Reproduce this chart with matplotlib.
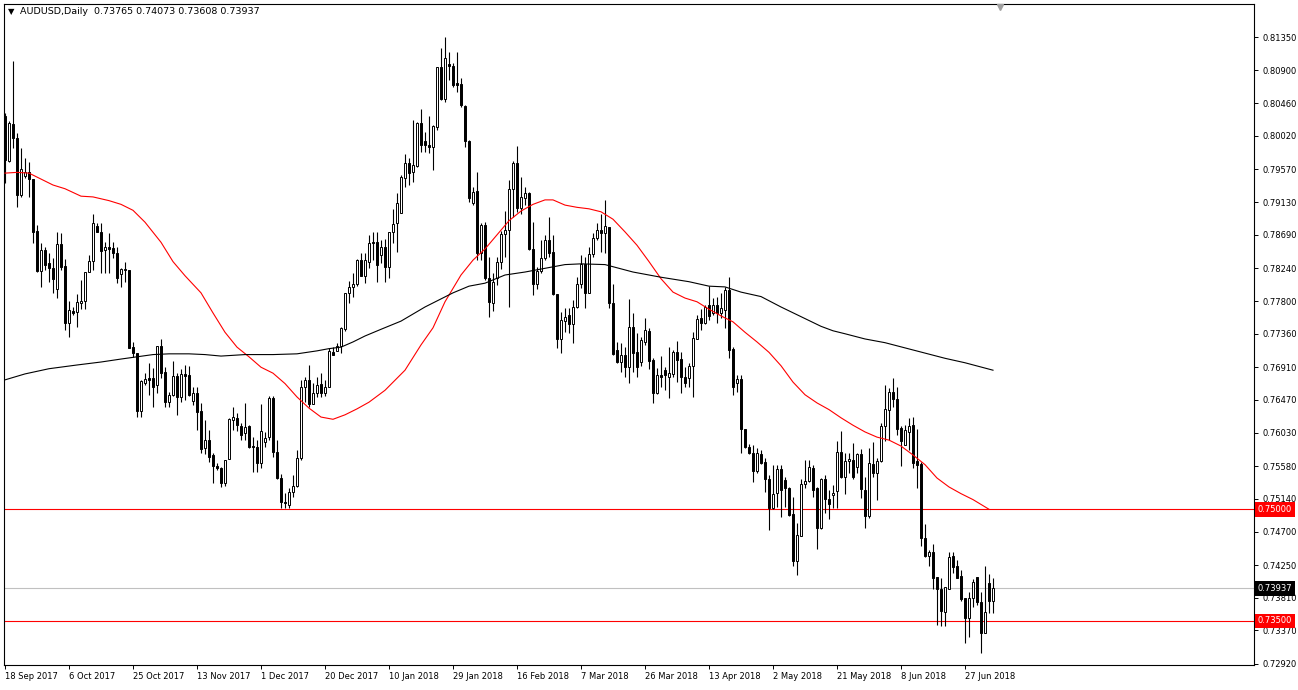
import matplotlib
matplotlib.use("Agg")
import matplotlib.pyplot as plt
import matplotlib.transforms as mtransforms

# Daily AUDUSD candles, one entry per bar (left to right)
opens = [0.8029, 0.7968, 0.8018, 0.7999, 0.7923, 0.7948, 0.7953, 0.7944, 0.7874, 0.7820,
         0.7849, 0.7831, 0.7824, 0.7796, 0.7857, 0.7827, 0.7750, 0.7767, 0.7765, 0.7777,
         0.7780, 0.7819, 0.7834, 0.7881, 0.7873, 0.7849, 0.7853, 0.7851, 0.7845, 0.7816,
         0.7822, 0.7822, 0.7718, 0.7710, 0.7632, 0.7670, 0.7676, 0.7676, 0.7667, 0.7720,
         0.7685, 0.7644, 0.7654, 0.7679, 0.7651, 0.7682, 0.7681, 0.7646, 0.7656, 0.7632,
         0.7583, 0.7593, 0.7573, 0.7558, 0.7556, 0.7535, 0.7568, 0.7620, 0.7623, 0.7612,
         0.7603, 0.7612, 0.7585, 0.7584, 0.7562, 0.7591, 0.7597, 0.7650, 0.7577, 0.7542,
         0.7510, 0.7506, 0.7523, 0.7531, 0.7569, 0.7664, 0.7674, 0.7641, 0.7656, 0.7668,
         0.7656, 0.7664, 0.7711, 0.7713, 0.7720, 0.7742, 0.7791, 0.7799, 0.7803, 0.7835,
         0.7814, 0.7832, 0.7860, 0.7860, 0.7842, 0.7853, 0.7826, 0.7873, 0.7885, 0.7898,
         0.7945, 0.7966, 0.7953, 0.7961, 0.8019, 0.7995, 0.7990, 0.7987, 0.8014, 0.8095,
         0.8052, 0.8099, 0.8096, 0.8073, 0.8072, 0.8042, 0.7995, 0.7912, 0.7928, 0.7845,
         0.7882, 0.7811, 0.7777, 0.7811, 0.7832, 0.7870, 0.7875, 0.7931, 0.7966, 0.7905,
         0.7919, 0.7925, 0.7850, 0.7803, 0.7820, 0.7838, 0.7862, 0.7846, 0.7790, 0.7729,
         0.7753, 0.7761, 0.7749, 0.7772, 0.7803, 0.7830, 0.7791, 0.7843, 0.7865, 0.7875,
         0.7871, 0.7880, 0.7777, 0.7714, 0.7698, 0.7707, 0.7691, 0.7745, 0.7711, 0.7698,
         0.7725, 0.7740, 0.7701, 0.7656, 0.7681, 0.7687, 0.7678, 0.7682, 0.7711, 0.7702,
         0.7678, 0.7676, 0.7693, 0.7729, 0.7757, 0.7750, 0.7775, 0.7764, 0.7775, 0.7764,
         0.7768, 0.7795, 0.7716, 0.7670, 0.7675, 0.7608, 0.7584, 0.7576, 0.7552, 0.7574,
         0.7563, 0.7541, 0.7502, 0.7522, 0.7554, 0.7539, 0.7529, 0.7494, 0.7431, 0.7464,
         0.7534, 0.7538, 0.7556, 0.7529, 0.7475, 0.7541, 0.7514, 0.7519, 0.7524, 0.7577,
         0.7543, 0.7565, 0.7566, 0.7557, 0.7574, 0.7526, 0.7491, 0.7561, 0.7549, 0.7565,
         0.7612, 0.7634, 0.7658, 0.7648, 0.7609, 0.7587, 0.7604, 0.7613, 0.7565, 0.7561,
         0.7461, 0.7437, 0.7443, 0.7409, 0.7393, 0.7362, 0.7393, 0.7437, 0.7424, 0.7410,
         0.7381, 0.7354, 0.7381, 0.7409, 0.7375, 0.7334, 0.7401, 0.73765]
highs = [0.8033, 0.8022, 0.8103, 0.8006, 0.7986, 0.7972, 0.7967, 0.7944, 0.7882, 0.7858,
         0.7853, 0.7845, 0.7838, 0.7873, 0.7872, 0.7836, 0.7780, 0.7772, 0.7790, 0.7808,
         0.7819, 0.7842, 0.7897, 0.7885, 0.7885, 0.7860, 0.7871, 0.7859, 0.7853, 0.7824,
         0.7832, 0.7822, 0.7725, 0.7710, 0.7674, 0.7683, 0.7697, 0.7690, 0.7720, 0.7729,
         0.7691, 0.7658, 0.7699, 0.7683, 0.7688, 0.7694, 0.7693, 0.7664, 0.7664, 0.7643,
         0.7620, 0.7607, 0.7576, 0.7562, 0.7557, 0.7566, 0.7623, 0.7638, 0.7630, 0.7616,
         0.7643, 0.7613, 0.7597, 0.7593, 0.7641, 0.7604, 0.7652, 0.7652, 0.7593, 0.7548,
         0.7522, 0.7529, 0.7546, 0.7580, 0.7674, 0.7678, 0.7694, 0.7670, 0.7678, 0.7683,
         0.7674, 0.7717, 0.7718, 0.7724, 0.7745, 0.7791, 0.7807, 0.7818, 0.7837, 0.7845,
         0.7845, 0.7869, 0.7873, 0.7873, 0.7862, 0.7863, 0.7873, 0.7904, 0.7925, 0.7949,
         0.7978, 0.7972, 0.8023, 0.8021, 0.8038, 0.8007, 0.8029, 0.8017, 0.8095, 0.8120,
         0.8135, 0.8115, 0.8100, 0.8115, 0.8080, 0.8044, 0.7997, 0.7933, 0.7953, 0.7885,
         0.7886, 0.7839, 0.7818, 0.7839, 0.7874, 0.7901, 0.7943, 0.7968, 0.7988, 0.7947,
         0.7933, 0.7927, 0.7886, 0.7826, 0.7862, 0.7869, 0.7893, 0.7869, 0.7790, 0.7765,
         0.7771, 0.7771, 0.7781, 0.7812, 0.7842, 0.7839, 0.7853, 0.7871, 0.7885, 0.7897,
         0.7916, 0.7880, 0.7803, 0.7725, 0.7724, 0.7718, 0.7783, 0.7764, 0.7737, 0.7732,
         0.7757, 0.7744, 0.7703, 0.7690, 0.7706, 0.7691, 0.7718, 0.7714, 0.7726, 0.7711,
         0.7691, 0.7697, 0.7738, 0.7761, 0.7769, 0.7775, 0.7800, 0.7784, 0.7786, 0.7791,
         0.7799, 0.7812, 0.7718, 0.7681, 0.7681, 0.7608, 0.7588, 0.7587, 0.7582, 0.7580,
         0.7569, 0.7546, 0.7560, 0.7560, 0.7560, 0.7543, 0.7530, 0.7517, 0.7482, 0.7541,
         0.7566, 0.7566, 0.7560, 0.7530, 0.7542, 0.7546, 0.7526, 0.7533, 0.7592, 0.7605,
         0.7576, 0.7576, 0.7589, 0.7576, 0.7581, 0.7543, 0.7583, 0.7591, 0.7569, 0.7616,
         0.7667, 0.7663, 0.7676, 0.7664, 0.7612, 0.7613, 0.7623, 0.7624, 0.7608, 0.7564,
         0.7480, 0.7445, 0.7453, 0.7409, 0.7408, 0.7396, 0.7443, 0.7443, 0.7432, 0.7418,
         0.7381, 0.7389, 0.7406, 0.7409, 0.7389, 0.7424, 0.7413, 0.74073]
lows = [0.7939, 0.7967, 0.7986, 0.7907, 0.7920, 0.7945, 0.7920, 0.7858, 0.7819, 0.7799,
        0.7822, 0.7806, 0.7791, 0.7784, 0.7822, 0.7741, 0.7732, 0.7761, 0.7745, 0.7769,
        0.7769, 0.7819, 0.7822, 0.7873, 0.7818, 0.7818, 0.7818, 0.7838, 0.7804, 0.7799,
        0.7806, 0.7717, 0.7705, 0.7624, 0.7624, 0.7667, 0.7654, 0.7638, 0.7656, 0.7676,
        0.7638, 0.7638, 0.7652, 0.7627, 0.7644, 0.7647, 0.7652, 0.7640, 0.7607, 0.7576,
        0.7574, 0.7564, 0.7535, 0.7553, 0.7530, 0.7531, 0.7568, 0.7607, 0.7605, 0.7593,
        0.7593, 0.7583, 0.7550, 0.7550, 0.7555, 0.7584, 0.7593, 0.7570, 0.7541, 0.7502,
        0.7502, 0.7502, 0.7516, 0.7530, 0.7566, 0.7644, 0.7638, 0.7641, 0.7651, 0.7651,
        0.7652, 0.7664, 0.7707, 0.7713, 0.7710, 0.7740, 0.7777, 0.7786, 0.7800, 0.7814,
        0.7804, 0.7824, 0.7835, 0.7806, 0.7831, 0.7806, 0.7811, 0.7858, 0.7846, 0.7898,
        0.7933, 0.7936, 0.7940, 0.7960, 0.7980, 0.7980, 0.7979, 0.7956, 0.8010, 0.8050,
        0.8048, 0.8077, 0.8068, 0.8061, 0.8041, 0.7987, 0.7913, 0.7909, 0.7835, 0.7835,
        0.7808, 0.7759, 0.7767, 0.7802, 0.7823, 0.7839, 0.7772, 0.7893, 0.7900, 0.7897,
        0.7909, 0.7849, 0.7788, 0.7796, 0.7818, 0.7835, 0.7839, 0.7788, 0.7717, 0.7710,
        0.7738, 0.7737, 0.7724, 0.7771, 0.7798, 0.7771, 0.7791, 0.7839, 0.7862, 0.7846,
        0.7845, 0.7771, 0.7707, 0.7697, 0.7685, 0.7678, 0.7670, 0.7685, 0.7678, 0.7693,
        0.7721, 0.7688, 0.7643, 0.7655, 0.7664, 0.7660, 0.7650, 0.7678, 0.7671, 0.7656,
        0.7664, 0.7664, 0.7651, 0.7729, 0.7741, 0.7749, 0.7755, 0.7761, 0.7750, 0.7757,
        0.7744, 0.7703, 0.7654, 0.7658, 0.7576, 0.7583, 0.7574, 0.7537, 0.7549, 0.7561,
        0.7523, 0.7472, 0.7500, 0.7503, 0.7489, 0.7503, 0.7491, 0.7424, 0.7412, 0.7464,
        0.7529, 0.7537, 0.7516, 0.7447, 0.7474, 0.7495, 0.7487, 0.7502, 0.7502, 0.7542,
        0.7521, 0.7549, 0.7541, 0.7549, 0.7515, 0.7475, 0.7488, 0.7543, 0.7513, 0.7564,
        0.7592, 0.7593, 0.7638, 0.7600, 0.7558, 0.7587, 0.7580, 0.7556, 0.7529, 0.7451,
        0.7436, 0.7424, 0.7393, 0.7344, 0.7343, 0.7343, 0.7393, 0.7414, 0.7408, 0.7377,
        0.7320, 0.7328, 0.7369, 0.7371, 0.7307, 0.7334, 0.7361, 0.73608]
closes = [0.7970, 0.8019, 0.7999, 0.7923, 0.7958, 0.7953, 0.7944, 0.7873, 0.7820, 0.7849,
          0.7829, 0.7824, 0.7810, 0.7857, 0.7826, 0.7750, 0.7768, 0.7764, 0.7779, 0.7780,
          0.7819, 0.7834, 0.7885, 0.7873, 0.7847, 0.7853, 0.7850, 0.7845, 0.7811, 0.7823,
          0.7823, 0.7717, 0.7710, 0.7632, 0.7672, 0.7675, 0.7674, 0.7664, 0.7720, 0.7683,
          0.7644, 0.7654, 0.7679, 0.7651, 0.7682, 0.7679, 0.7654, 0.7656, 0.7631, 0.7581,
          0.7593, 0.7570, 0.7558, 0.7556, 0.7535, 0.7566, 0.7622, 0.7624, 0.7613, 0.7600,
          0.7611, 0.7584, 0.7584, 0.7562, 0.7605, 0.7596, 0.7650, 0.7577, 0.7542, 0.7510,
          0.7508, 0.7523, 0.7531, 0.7569, 0.7664, 0.7674, 0.7641, 0.7656, 0.7667, 0.7656,
          0.7664, 0.7713, 0.7707, 0.7720, 0.7744, 0.7791, 0.7799, 0.7803, 0.7835, 0.7814,
          0.7835, 0.7858, 0.7858, 0.7829, 0.7853, 0.7826, 0.7873, 0.7884, 0.7912, 0.7947,
          0.7966, 0.7952, 0.7963, 0.8019, 0.7990, 0.7990, 0.7987, 0.8015, 0.8095, 0.8052,
          0.8107, 0.8096, 0.8070, 0.8070, 0.8043, 0.7995, 0.7919, 0.7927, 0.7845, 0.7882,
          0.7811, 0.7779, 0.7806, 0.7832, 0.7870, 0.7875, 0.7931, 0.7966, 0.7905, 0.7920,
          0.7925, 0.7850, 0.7803, 0.7820, 0.7838, 0.7862, 0.7845, 0.7790, 0.7729, 0.7755,
          0.7759, 0.7749, 0.7772, 0.7803, 0.7830, 0.7791, 0.7843, 0.7865, 0.7875, 0.7871,
          0.7881, 0.7777, 0.7709, 0.7698, 0.7707, 0.7691, 0.7745, 0.7710, 0.7691, 0.7728,
          0.7741, 0.7699, 0.7656, 0.7681, 0.7678, 0.7681, 0.7683, 0.7711, 0.7701, 0.7678,
          0.7670, 0.7693, 0.7730, 0.7756, 0.7750, 0.7772, 0.7760, 0.7775, 0.7764, 0.7771,
          0.7795, 0.7714, 0.7664, 0.7675, 0.7608, 0.7584, 0.7576, 0.7552, 0.7576, 0.7562,
          0.7541, 0.7502, 0.7521, 0.7554, 0.7526, 0.7529, 0.7492, 0.7431, 0.7466, 0.7534,
          0.7538, 0.7557, 0.7526, 0.7475, 0.7541, 0.7514, 0.7507, 0.7522, 0.7577, 0.7543,
          0.7565, 0.7568, 0.7543, 0.7574, 0.7527, 0.7491, 0.7562, 0.7549, 0.7565, 0.7612,
          0.7635, 0.7658, 0.7648, 0.7608, 0.7592, 0.7607, 0.7612, 0.7562, 0.7560, 0.7462,
          0.7437, 0.7443, 0.7408, 0.7393, 0.7363, 0.7396, 0.7436, 0.7422, 0.7408, 0.7379,
          0.7354, 0.7381, 0.7402, 0.7375, 0.7334, 0.7362, 0.7377, 0.73937]

# Moving averages at a few bars
red_ma_bar = [0, 3, 6, 9, 12, 15, 19, 22, 26, 29, 32, 35, 39, 42, 45, 49, 52, 55, 58, 61,
              64, 67, 70, 73, 76, 79, 82, 85, 88, 91, 95, 100, 104, 107, 110, 114, 117, 120,
              123, 126, 129, 132, 135, 137, 140, 143, 146, 149, 152, 155, 158, 161, 164, 167,
              170, 173, 176, 179, 182, 185, 188, 191, 194, 197, 200, 203, 206, 209, 212, 215,
              218, 221, 224, 227, 230, 233, 236, 239, 242, 246]
red_ma = [0.7952, 0.7953, 0.7952, 0.7944, 0.7936, 0.7931, 0.7921, 0.7920, 0.7915, 0.7910,
          0.7902, 0.7886, 0.7859, 0.7833, 0.7814, 0.7791, 0.7764, 0.7738, 0.7718, 0.7705,
          0.7691, 0.7683, 0.7669, 0.7651, 0.7636, 0.7624, 0.7621, 0.7627, 0.7635, 0.7644,
          0.7660, 0.7687, 0.7721, 0.7744, 0.7779, 0.7815, 0.7835, 0.7850, 0.7869, 0.7888,
          0.7901, 0.7910, 0.7916, 0.7916, 0.7909, 0.7906, 0.7904, 0.7900, 0.7890, 0.7873,
          0.7855, 0.7833, 0.7810, 0.7792, 0.7784, 0.7779, 0.7769, 0.7760, 0.7752, 0.7738,
          0.7725, 0.7711, 0.7693, 0.7671, 0.7654, 0.7643, 0.7634, 0.7623, 0.7613, 0.7604,
          0.7597, 0.7593, 0.7585, 0.7573, 0.7560, 0.7542, 0.7530, 0.7521, 0.7513, 0.7500]
black_ma_bar = [0, 5, 11, 18, 24, 29, 33, 37, 41, 46, 50, 54, 60, 67, 73, 78, 81, 84, 87, 90,
                94, 99, 105, 112, 116, 120, 125, 130, 135, 140, 144, 150, 157, 164, 171, 176,
                180, 184, 189, 194, 199, 204, 207, 210, 215, 220, 225, 230, 235, 240, 247]
black_ma = [0.7674, 0.7682, 0.7689, 0.7694, 0.7698, 0.7702, 0.7705, 0.7708, 0.7709, 0.7709,
            0.7708, 0.7706, 0.7708, 0.7708, 0.7709, 0.7713, 0.7716, 0.7718, 0.7725, 0.7733,
            0.7742, 0.7753, 0.7772, 0.7791, 0.7800, 0.7804, 0.7815, 0.7819, 0.7824, 0.7829,
            0.7830, 0.7829, 0.7819, 0.7812, 0.7806, 0.7800, 0.7799, 0.7792, 0.7786, 0.7772,
            0.7759, 0.7746, 0.7740, 0.7736, 0.7729, 0.7724, 0.7717, 0.7710, 0.7703, 0.7697,
            0.7687]

# Horizontal levels
levels = [0.7500, 0.7350]
last_price = 0.73937

price_ticks = [0.81350, 0.80900, 0.80460, 0.80020, 0.79570, 0.79130, 0.78690, 0.78240,
               0.77800, 0.77360, 0.76910, 0.76470, 0.76030, 0.75580, 0.75140, 0.74700,
               0.74250, 0.73810, 0.73370, 0.72920]
date_labels = ["18 Sep 2017", "6 Oct 2017", "25 Oct 2017", "13 Nov 2017", "1 Dec 2017",
               "20 Dec 2017", "10 Jan 2018", "29 Jan 2018", "16 Feb 2018", "7 Mar 2018",
               "26 Mar 2018", "13 Apr 2018", "2 May 2018", "21 May 2018", "8 Jun 2018",
               "27 Jun 2018"]
date_bars = list(range(0, 16 * len(date_labels), 16))  # one label every 16 bars

W, H = 1298, 690
fig = plt.figure(figsize=(W / 100, H / 100), dpi=100)
fig.patch.set_facecolor('white')
ax = fig.add_axes([4 / W, 1 - 665 / H, 1250 / W, 661 / H])

bars = list(range(len(opens)))

# Wicks first, bodies on top
ax.vlines(bars, lows, highs, color='black', linewidth=0.8, zorder=2)
bottoms = [min(o, c) for o, c in zip(opens, closes)]
heights = [abs(c - o) for o, c in zip(opens, closes)]
fills = ['white' if c >= o else 'black' for o, c in zip(opens, closes)]
ax.bar(bars, heights, bottom=bottoms, width=0.5, color=fills, edgecolor='black',
       linewidth=0.7, zorder=3)

# Moving averages
ax.plot(red_ma_bar, red_ma, color='red', linewidth=0.8, zorder=4)
ax.plot(black_ma_bar, black_ma, color='black', linewidth=0.8, zorder=4)

# Levels and current price line
for lv in levels:
    ax.axhline(lv, color='red', linewidth=0.8, zorder=1)
ax.axhline(last_price, color='#C0C0C0', linewidth=0.8, zorder=1)

ax.set_xlim(-0.25, 312.25)
ax.set_ylim(0.72906, 0.81794)

for sp in ax.spines.values():
    sp.set_linewidth(0.8)
    sp.set_color('black')

# Right price scale
ax.yaxis.tick_right()
ax.set_yticks(price_ticks)
ax.set_yticklabels(['%.5f' % p for p in price_ticks])
ax.tick_params(axis='y', direction='out', length=3, width=0.7, labelsize=6, pad=3)

# Date scale along the bottom
ax.set_xticks(date_bars)
ax.set_xticklabels(date_labels)
ax.tick_params(axis='x', direction='out', length=3, width=0.7, labelsize=6, pad=2)
for lbl in ax.get_xticklabels():
    lbl.set_horizontalalignment('left')

# Coloured price tags on the right scale
trans = mtransforms.blended_transform_factory(ax.transAxes, ax.transData)
tags = [(levels[0], 'red'), (last_price, 'black'), (levels[1], 'red')]
for price, col in tags:
    ax.text(1.003, price, '%.5f' % price, transform=trans, ha='left', va='center',
            fontsize=6, color='white', zorder=6,
            bbox=dict(facecolor=col, edgecolor='none', pad=2.0), clip_on=False)

# Header line in the top-left corner
fig.text(8 / W, 1 - 12 / H, '\u25BC', fontsize=6, va='center', ha='left')
fig.text(20 / W, 1 - 12 / H, 'AUDUSD,Daily  0.73765 0.74073 0.73608 0.73937',
         fontsize=6.8, va='center', ha='left')

# Small chart-shift marker at the top edge
ax.plot([248.75], [0.995], marker='v', color='#A0A0A0', markersize=5,
        transform=mtransforms.blended_transform_factory(ax.transData, ax.transAxes),
        clip_on=False, zorder=5)

fig.savefig('out.png', dpi=100)
